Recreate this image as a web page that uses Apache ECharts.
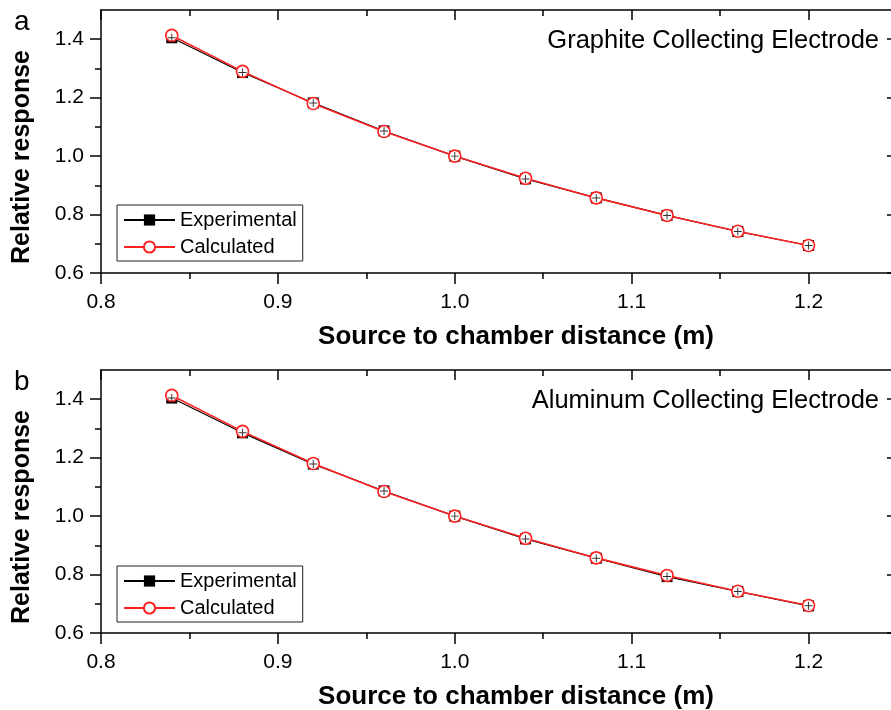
<!DOCTYPE html>
<html>
<head>
<meta charset="utf-8">
<script src="https://cdn.jsdelivr.net/npm/echarts@6/dist/echarts.min.js"></script>
<style>
html,body{margin:0;padding:0;background:#fff;}
#chart{width:891px;height:710px;}
</style>
</head>
<body>
<div id="chart"></div>
<script>
// ---- data ----
const distance = [0.84, 0.88, 0.92, 0.96, 1.00, 1.04, 1.08, 1.12, 1.16, 1.20];
const expGraphite  = [1.405, 1.286, 1.182, 1.086, 1.000, 0.922, 0.857, 0.797, 0.742, 0.694];
const calcGraphite = [1.413, 1.290, 1.180, 1.084, 1.000, 0.924, 0.857, 0.797, 0.743, 0.694];
const expAluminum  = [1.404, 1.285, 1.178, 1.086, 1.000, 0.922, 0.856, 0.793, 0.742, 0.693];
const calcAluminum = [1.413, 1.290, 1.180, 1.084, 1.000, 0.924, 0.857, 0.797, 0.743, 0.694];
const xMajorTicks = [0.8, 0.9, 1.0, 1.1, 1.2];
const xMinorTicks = [0.85, 0.95, 1.05, 1.15];
const yMajorTicks = [0.6, 0.8, 1.0, 1.2, 1.4];
const yMinorTicks = [0.7, 0.9, 1.1, 1.3];
const panelTitles = ['Graphite Collecting Electrode', 'Aluminum Collecting Electrode'];
const panelLetters = ['a', 'b'];
const xTitle = 'Source to chamber distance (m)';
const yTitle = 'Relative response';

const RED = '#ff2020';
const FONT = '"Liberation Sans", Arial, Helvetica, sans-serif';
const X_MIN = 0.8, X_MAX = 1.25, Y_MIN = 0.6, Y_MAX = 1.5;

const grids = [
  {left: 101, top: 10, width: 796, height: 263, outerBoundsMode: 'none', containLabel: false},
  {left: 101, top: 370, width: 796, height: 263, outerBoundsMode: 'none', containLabel: false}
];

const lineAxis = {show: true, lineStyle: {color: '#000', width: 1.5}};

function xAxes(g) {
  const base = {type: 'value', gridIndex: g, min: X_MIN, max: X_MAX, splitLine: {show: false}};
  return [
    Object.assign({}, base, {
      position: 'bottom', axisLine: lineAxis,
      axisTick: {show: true, customValues: xMajorTicks, length: 11, lineStyle: {color: '#000', width: 1.5}},
      axisLabel: {show: true, customValues: xMajorTicks, margin: 19, fontSize: 21, color: '#000', fontFamily: FONT,
        formatter: v => v.toFixed(1)},
      name: xTitle, nameLocation: 'middle', nameGap: 51,
      nameTextStyle: {fontSize: 26, fontWeight: 'bold', color: '#000', fontFamily: FONT, padding: [0, 0, 0, 34]}
    }),
    Object.assign({}, base, {
      position: 'bottom', axisLine: {show: false},
      axisTick: {show: true, customValues: xMinorTicks, length: 6, lineStyle: {color: '#000', width: 1.5}},
      axisLabel: {show: false}
    }),
    Object.assign({}, base, {
      position: 'top', axisLine: lineAxis,
      axisTick: {show: true, inside: true, customValues: xMajorTicks, length: 10, lineStyle: {color: '#000', width: 1.5}},
      axisLabel: {show: false}
    }),
    Object.assign({}, base, {
      position: 'top', axisLine: {show: false},
      axisTick: {show: true, inside: true, customValues: xMinorTicks, length: 6, lineStyle: {color: '#000', width: 1.5}},
      axisLabel: {show: false}
    })
  ];
}

function yAxes(g) {
  const base = {type: 'value', gridIndex: g, min: Y_MIN, max: Y_MAX, splitLine: {show: false}};
  return [
    Object.assign({}, base, {
      position: 'left', axisLine: lineAxis,
      axisTick: {show: true, customValues: yMajorTicks, length: 11, lineStyle: {color: '#000', width: 1.5}},
      axisLabel: {show: true, customValues: yMajorTicks, margin: 17, fontSize: 21, color: '#000', fontFamily: FONT,
        formatter: v => v.toFixed(1)}
    }),
    Object.assign({}, base, {
      position: 'left', axisLine: {show: false},
      axisTick: {show: true, customValues: yMinorTicks, length: 6, lineStyle: {color: '#000', width: 1.5}},
      axisLabel: {show: false}
    }),
    Object.assign({}, base, {
      position: 'right', axisLine: lineAxis,
      axisTick: {show: true, inside: true, customValues: yMajorTicks, length: 10, lineStyle: {color: '#000', width: 1.5}},
      axisLabel: {show: false}
    }),
    Object.assign({}, base, {
      position: 'right', axisLine: {show: false},
      axisTick: {show: true, inside: true, customValues: yMinorTicks, length: 6, lineStyle: {color: '#000', width: 1.5}},
      axisLabel: {show: false}
    })
  ];
}

function pairs(ys) { return distance.map((x, i) => [x, ys[i]]); }

const crossPath = 'path://M0,4.4H10V5.6H0Z M4.4,0H5.6V10H4.4Z';

function panelSeries(g, expVals, calcVals) {
  const ax = g * 4;
  return [
    {type: 'line', name: 'Experimental', xAxisIndex: ax, yAxisIndex: ax, data: pairs(expVals),
      symbol: 'rect', symbolSize: 11, showAllSymbol: true,
      lineStyle: {color: '#000', width: 1.2}, itemStyle: {color: '#000'}, z: 2},
    {type: 'line', name: 'Calculated', xAxisIndex: ax, yAxisIndex: ax, data: pairs(calcVals),
      symbol: 'circle', symbolSize: 12, showAllSymbol: true,
      lineStyle: {color: RED, width: 1.6}, itemStyle: {color: '#fff', borderColor: RED, borderWidth: 1.6}, z: 3},
    {type: 'scatter', name: 'Experimental error', xAxisIndex: ax, yAxisIndex: ax, data: pairs(expVals),
      symbol: crossPath, symbolSize: 8, itemStyle: {color: '#000'}, z: 4, silent: true}
  ];
}

function legendFor(top) {
  return {
    data: ['Experimental', 'Calculated'], orient: 'vertical', left: 117, top: top,
    backgroundColor: '#fff', borderColor: '#222', borderWidth: 1, borderRadius: 0,
    padding: [5, 6, 4, 6], itemWidth: 51, itemHeight: 14, itemGap: 7,
    textStyle: {fontSize: 20, color: '#000', fontFamily: FONT},
    selectedMode: false
  };
}

const graphics = [];
[0, 1].forEach(i => {
  const off = i * 360;
  graphics.push({type: 'text', left: 14, top: 8 + off,
    style: {text: panelLetters[i], fontSize: 28, fill: '#000', fontFamily: FONT}});
  graphics.push({type: 'text', x: 879, y: 41 + off,
    style: {text: panelTitles[i], fontSize: 25.5, fill: '#000', fontFamily: FONT, textAlign: 'right', textVerticalAlign: 'middle'}});
  graphics.push({type: 'text', x: 22, y: 157 + off, rotation: Math.PI / 2,
    style: {text: yTitle, fontSize: 25, fontWeight: 'bold', fill: '#000', fontFamily: FONT, textAlign: 'center', textVerticalAlign: 'middle'}});
});

const chart = echarts.init(document.getElementById('chart'), null, {renderer: 'canvas'});
chart.setOption({
  animation: false,
  backgroundColor: '#fff',
  textStyle: {fontFamily: FONT},
  grid: grids,
  xAxis: xAxes(0).concat(xAxes(1)),
  yAxis: yAxes(0).concat(yAxes(1)),
  legend: [legendFor(205), legendFor(566)],
  series: panelSeries(0, expGraphite, calcGraphite).concat(panelSeries(1, expAluminum, calcAluminum)),
  graphic: graphics
});
</script>
</body>
</html>
